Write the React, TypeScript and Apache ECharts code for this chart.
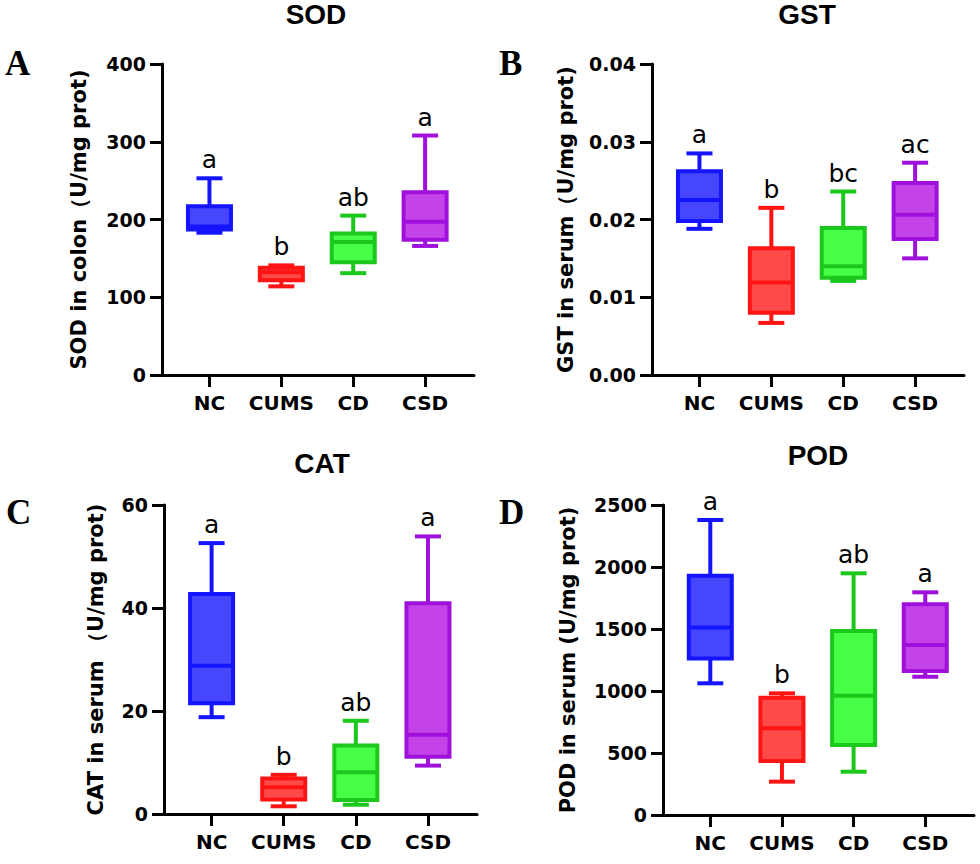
import React, { useEffect, useRef } from "react";
import * as echarts from "echarts";

const categories = ["NC", "CUMS", "CD", "CSD"];

// [min, Q1, median, Q3, max] per category
const sodBox = [
  [183, 187, 191, 217, 253],
  [114, 122, 132, 138, 141],
  [131, 145, 171, 182, 205],
  [166, 174, 197, 235, 308],
];
const gstBox = [
  [0.0188, 0.0198, 0.0225, 0.0262, 0.0285],
  [0.0067, 0.008, 0.0119, 0.0163, 0.0215],
  [0.0121, 0.0125, 0.014, 0.0189, 0.0236],
  [0.015, 0.0175, 0.0206, 0.0247, 0.0273],
];
const catBox = [
  [18.8, 21.5, 28.8, 42.7, 52.6],
  [1.5, 2.8, 5.2, 6.9, 7.6],
  [1.8, 2.7, 8.1, 13.3, 18.1],
  [9.4, 11.1, 15.4, 40.9, 53.9],
];
const podBox = [
  [1062, 1263, 1513, 1930, 2379],
  [269, 435, 699, 946, 981],
  [349, 564, 962, 1484, 1949],
  [1115, 1161, 1371, 1699, 1796],
];

const sodLetters = ["a", "b", "ab", "a"];
const gstLetters = ["a", "b", "bc", "ac"];
const catLetters = ["a", "b", "ab", "a"];
const podLetters = ["a", "b", "ab", "a"];

// [min, max, interval]
const sodRange = [0, 400, 100];
const gstRange = [0, 0.04, 0.01];
const catRange = [0, 60, 20];
const podRange = [0, 2500, 500];

const titles = ["SOD", "GST", "CAT", "POD"];
const panelLetters = ["A", "B", "C", "D"];
const yNames = [
  "SOD in colon（U/mg prot)",
  "GST in serum（U/mg prot)",
  "CAT in serum （U/mg prot)",
  "POD in serum (U/mg prot)",
];

const borderColors = ["#1414FF", "#FF1414", "#1CC81C", "#A010DC"];
const fillColors = ["#4646FF", "#FF4A4A", "#46FF46", "#C443E8"];

const SANS = "DejaVu Sans";

export default function App() {
  const ref = useRef<HTMLDivElement>(null);

  useEffect(() => {
    if (!ref.current) return;
    const chart = echarts.init(ref.current, null, { renderer: "svg" });

    const panels = [
      { box: sodBox, letters: sodLetters, range: sodRange, grid: { left: 162, top: 64, width: 312, height: 311 }, gap: 73, fmt: (v: number) => String(v) },
      { box: gstBox, letters: gstLetters, range: gstRange, grid: { left: 652, top: 64, width: 312, height: 311 }, gap: 76, fmt: (v: number) => v.toFixed(2) },
      { box: catBox, letters: catLetters, range: catRange, grid: { left: 164, top: 505, width: 313, height: 309 }, gap: 58, fmt: (v: number) => String(v) },
      { box: podBox, letters: podLetters, range: podRange, grid: { left: 663, top: 505, width: 311, height: 310 }, gap: 85, fmt: (v: number) => String(v) },
    ];

    const grids = panels.map((p) => ({ ...p.grid, containLabel: false }));

    const xAxes = panels.map((p, i) => ({
      type: "value",
      gridIndex: i,
      min: 0.34,
      max: 4.68,
      splitLine: { show: false },
      axisLine: { show: true, onZero: false, lineStyle: { color: "#000", width: 3 } },
      axisTick: { show: true, customValues: [1, 2, 3, 4], length: 12, lineStyle: { color: "#000", width: 3 } },
      axisLabel: {
        show: true,
        customValues: [1, 2, 3, 4],
        formatter: (v: number) => categories[Math.round(v) - 1] ?? "",
        margin: 18,
        color: "#000",
        fontFamily: SANS,
        fontWeight: "bold",
        fontSize: 20,
      },
    }));

    const yAxes = panels.map((p, i) => ({
      type: "value",
      gridIndex: i,
      min: p.range[0],
      max: p.range[1],
      interval: p.range[2],
      name: yNames[i],
      nameLocation: "middle",
      nameGap: p.gap,
      nameTextStyle: { color: "#000", fontFamily: SANS, fontWeight: "bold", fontSize: 21 },
      splitLine: { show: false },
      axisLine: { show: true, onZero: false, lineStyle: { color: "#000", width: 3 } },
      axisTick: { show: true, length: 12, lineStyle: { color: "#000", width: 3 } },
      axisLabel: {
        margin: 16,
        color: "#000",
        fontFamily: SANS,
        fontWeight: "bold",
        fontSize: 19,
        formatter: p.fmt,
      },
    }));

    const series = panels.map((p, i) => ({
      type: "custom",
      xAxisIndex: i,
      yAxisIndex: i,
      dimensions: ["x", "min", "q1", "med", "q3", "max"],
      encode: { x: 0, y: [1, 2, 3, 4, 5] },
      data: p.box.map((b, k) => [k + 1, ...b]),
      renderItem: (params: any, api: any) => {
        const x = api.value(0);
        const k = params.dataIndex;
        const cx = api.coord([x, 0])[0];
        const yMin = api.coord([x, api.value(1)])[1];
        const yQ1 = api.coord([x, api.value(2)])[1];
        const yMed = api.coord([x, api.value(3)])[1];
        const yQ3 = api.coord([x, api.value(4)])[1];
        const yMax = api.coord([x, api.value(5)])[1];
        const bc = borderColors[k];
        const fc = fillColors[k];
        const lw = 4;
        const halfBox = 21.5;
        const halfCap = 13;
        const line = (x1: number, y1: number, x2: number, y2: number) => ({
          type: "line",
          shape: { x1, y1, x2, y2 },
          style: { stroke: bc, lineWidth: lw, lineCap: "butt" },
        });
        return {
          type: "group",
          children: [
            line(cx, yMax, cx, yQ3),
            line(cx, yQ1, cx, yMin),
            line(cx - halfCap, yMax, cx + halfCap, yMax),
            line(cx - halfCap, yMin, cx + halfCap, yMin),
            {
              type: "rect",
              shape: { x: cx - halfBox, y: yQ3, width: halfBox * 2, height: yQ1 - yQ3 },
              style: { fill: fc, stroke: bc, lineWidth: lw },
            },
            line(cx - halfBox, yMed, cx + halfBox, yMed),
            {
              type: "text",
              x: cx,
              y: yMax - 6,
              style: {
                text: p.letters[k],
                textAlign: "center",
                textVerticalAlign: "bottom",
                fill: "#000",
                fontFamily: SANS,
                fontSize: 25,
              },
            },
          ],
        };
      },
    }));

    const titleCenters = [
      [316, 0],
      [807, 0],
      [322, 449],
      [818, 441],
    ];

    const letterPos = [
      [5, 46],
      [499, 46],
      [6, 495],
      [499, 495],
    ];
    const graphic = panelLetters.map((l, i) => ({
      type: "text",
      left: letterPos[i][0],
      top: letterPos[i][1],
      style: {
        text: l,
        fill: "#000",
        fontFamily: "Liberation Serif",
        fontWeight: "bold",
        fontSize: 35,
      },
    }));

    chart.setOption({
      animation: false,
      backgroundColor: "#fff",
      title: titles.map((t, i) => ({
        text: t,
        left: titleCenters[i][0],
        top: titleCenters[i][1],
        textAlign: "center",
        padding: 0,
        textStyle: { color: "#000", fontFamily: "Liberation Sans", fontWeight: "bold", fontSize: 28 },
      })),
      grid: grids,
      xAxis: xAxes,
      yAxis: yAxes,
      series,
      graphic,
    });

    return () => chart.dispose();
  }, []);

  return (
    <div
      ref={ref}
      style={{ position: "absolute", left: 0, top: 0, width: 980, height: 864 }}
    />
  );
}
